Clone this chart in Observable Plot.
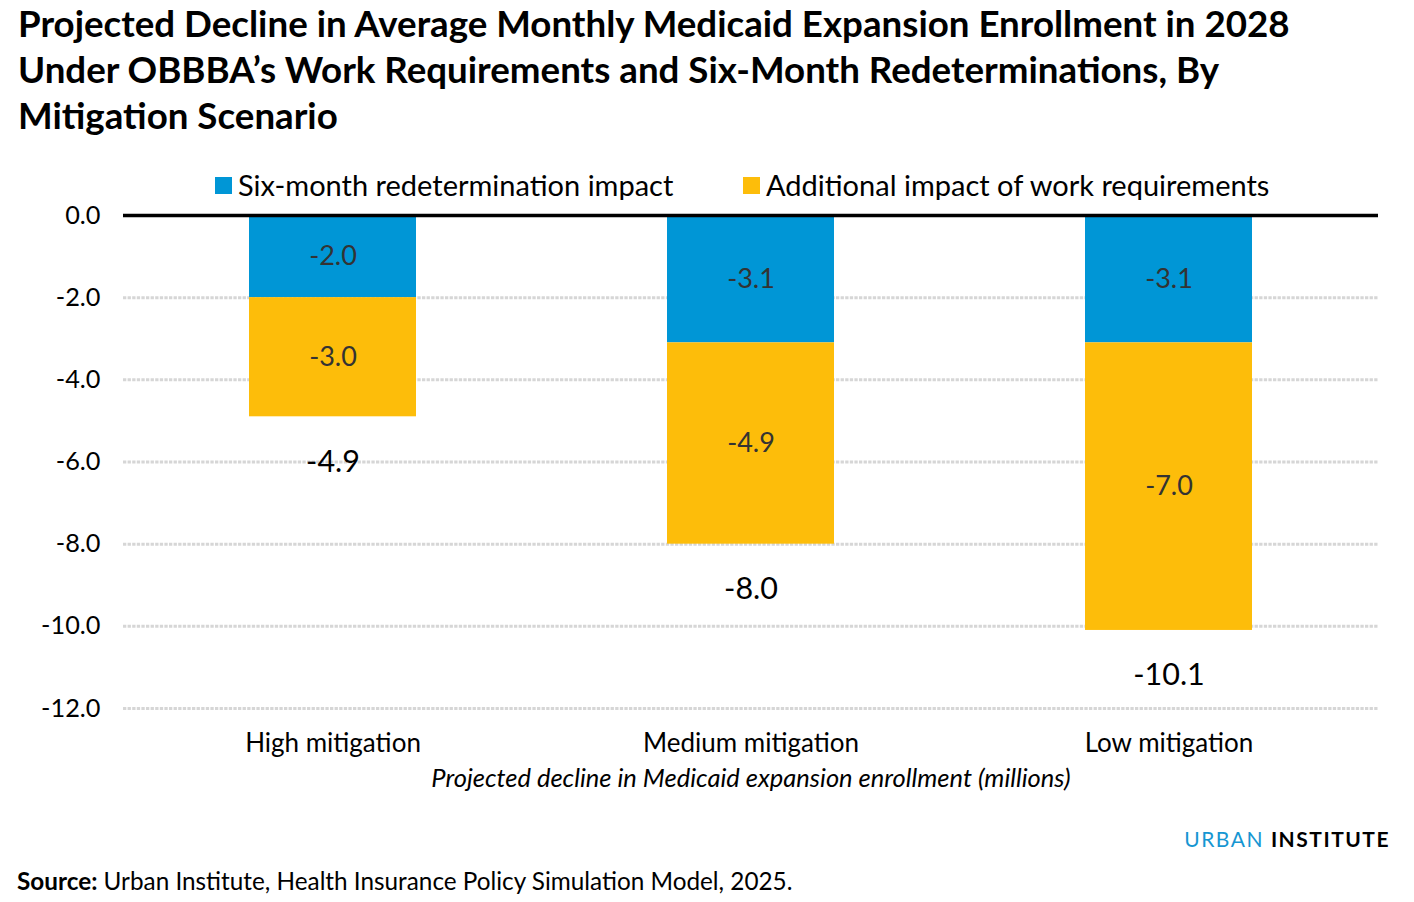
<!DOCTYPE html>
<html>
<head>
<meta charset="utf-8">
<script src="https://cdn.jsdelivr.net/npm/d3@7"></script>
<script src="https://cdn.jsdelivr.net/npm/@observablehq/plot@0.6"></script>
<style>
  html, body { margin: 0; padding: 0; background: #fff; }
  body { width: 1414px; height: 902px; position: relative; font-family: Lato, "Open Sans", sans-serif; color: #000; overflow: hidden; }
  #title { position: absolute; left: 18px; top: 0px; font-weight: 700; font-size: 36.7px; line-height: 46px; white-space: nowrap; }
  #legend { position: absolute; top: 167px; left: 0; width: 1414px; height: 36px; }
  .li { position: absolute; top: 0; display: flex; align-items: center; font-size: 29px; line-height: 36px; white-space: nowrap; }
  .sw { width: 17px; height: 17px; margin-right: 6px; }
  #chart { position: absolute; left: 0; top: 200px; }
  #brand { position: absolute; right: 24px; top: 826px; font-size: 21px; letter-spacing: 1.5px; white-space: nowrap; }
  #brand .u { color: #1696d2; font-weight: 400; }
  #brand .i { color: #000; font-weight: 700; }
  #source { position: absolute; left: 17px; top: 866px; font-size: 24.3px; white-space: nowrap; }
</style>
</head>
<body>
<div id="title">Projected Decline in Average Monthly Medicaid Expansion Enrollment in 2028<br>Under OBBBA’s Work Requirements and Six-Month Redeterminations, By<br>Mitigation Scenario</div>
<div id="legend"></div>
<div id="chart"></div>
<div id="brand"><span class="u">URBAN</span> <span class="i">INSTITUTE</span></div>
<div id="source"><b>Source:</b> Urban Institute, Health Insurance Policy Simulation Model, 2025.</div>
<script>
// ---- data ----
const scenarios = ["High mitigation", "Medium mitigation", "Low mitigation"];
const redetermination = [-2.0, -3.1, -3.1];
const workRequirements = [-3.0, -4.9, -7.0];
const totals = [-4.9, -8.0, -10.1];
const yTicks = [0, -2, -4, -6, -8, -10, -12];
const seriesNames = ["Six-month redetermination impact", "Additional impact of work requirements"];
const seriesColors = ["#0096d6", "#fdbd0a"];
const axisTitle = "Projected decline in Medicaid expansion enrollment (millions)";

// ---- legend ----
const legend = document.getElementById("legend");
const legendX = [215, 743];
seriesNames.forEach((name, i) => {
  const el = document.createElement("div");
  el.className = "li";
  el.style.left = legendX[i] + "px";
  el.innerHTML = `<span class="sw" style="background:${seriesColors[i]}"></span><span>${name}</span>`;
  legend.appendChild(el);
});

// ---- table ----
const blue = scenarios.map((s, i) => ({scenario: s, y1: 0, y2: redetermination[i], value: redetermination[i]}));
const yellow = scenarios.map((s, i) => ({scenario: s, y1: redetermination[i], y2: totals[i], value: workRequirements[i]}));
const tot = scenarios.map((s, i) => ({scenario: s, value: totals[i]}));
const fmt = d => d.toFixed(1);

const chart = Plot.plot({
  width: 1414,
  height: 610,
  marginLeft: 123,
  marginRight: 36,
  marginTop: 15,
  marginBottom: 102,
  style: {fontFamily: "Lato, sans-serif", color: "#000", background: "#fff"},
  x: {domain: scenarios, paddingInner: 0.6, paddingOuter: 0.3, label: null},
  y: {domain: [-12, 0], label: null},
  marks: [
    Plot.gridY(yTicks.filter(d => d !== 0), {stroke: "#d6d6d6", strokeOpacity: 1, strokeWidth: 3, strokeDasharray: "3.3,1.3"}),
    Plot.barY(blue, {x: "scenario", y1: "y1", y2: "y2", fill: seriesColors[0], inset: 0}),
    Plot.barY(yellow, {x: "scenario", y1: "y1", y2: "y2", fill: seriesColors[1], inset: 0}),
    Plot.ruleY([0], {stroke: "#000", strokeWidth: 3.5}),
    Plot.text(blue, {x: "scenario", y: d => (d.y1 + d.y2) / 2, text: d => fmt(d.value), fill: "#333", fontSize: 27}),
    Plot.text(yellow, {x: "scenario", y: d => (d.y1 + d.y2) / 2, text: d => fmt(d.value), fill: "#333", fontSize: 27}),
    Plot.text(tot, {x: "scenario", y: "value", text: d => fmt(d.value), fill: "#000", fontSize: 30.5, dy: 45}),
    Plot.axisX({tickSize: 0, tickPadding: 25, fontSize: 26, label: null}),
    Plot.axisY({ticks: yTicks, tickFormat: fmt, tickSize: 0, tickPadding: 23, fontSize: 25.3, label: null}),
    Plot.text([axisTitle], {frameAnchor: "bottom", text: d => d, dy: 78, fontSize: 25.5, fontStyle: "italic", fill: "#000"})
  ]
});
document.getElementById("chart").appendChild(chart);
</script>
</body>
</html>
